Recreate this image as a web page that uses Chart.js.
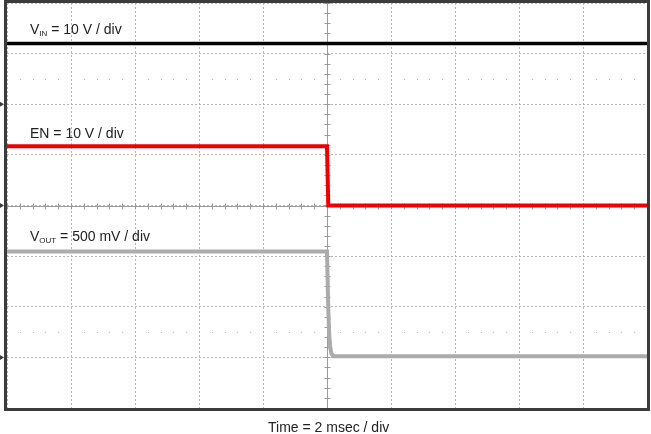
<!DOCTYPE html>
<html>
<head>
<meta charset="utf-8">
<script src="https://cdn.jsdelivr.net/npm/chart.js@4"></script>
<style>
  body { margin: 0; background: #fff; }
  #wrap { position: relative; width: 651px; height: 434px; }
  .lbl { position: absolute; font-family: "Liberation Sans", Arial, sans-serif; font-size: 14px; color: #222; white-space: nowrap; }
  .lbl sub { font-size: 8px; vertical-align: -2px; }
</style>
</head>
<body>
<div id="wrap">
  <canvas id="myChart" width="651" height="434"></canvas>
  <div class="lbl" style="left:30px; top:21px;">V<sub>IN</sub> = 10 V / div</div>
  <div class="lbl" style="left:30px; top:125px;">EN = 10 V / div</div>
  <div class="lbl" style="left:30px; top:228px;">V<sub>OUT</sub> = 500 mV / div</div>
  <div class="lbl" style="left:268px; top:419px;">Time = 2 msec / div</div>
</div>
<script>
// time in divisions (2 msec / div), values in divisions from screen centre
const vinTime = [-5, 5];
const vinVals = [3.2, 3.2];

const enTime = [-5, 0, 0.02, 5];
const enVals = [1.17, 1.17, 0.0, 0.0];

const voutTime = [-5, 0, 0.02, 0.035, 0.05, 0.07, 0.1, 5];
const voutVals = [-0.91, -0.91, -2.05, -2.55, -2.8, -2.93, -2.98, -2.98];

const groundMarks = [2, 0, -3];
const dotRows = [2.5, -2.5];

function toPoints(xs, ys) {
  return xs.map((x, i) => ({ x: x, y: ys[i] }));
}

// scope decorations: centre cross with minor ticks, dotted rows, frame, ground arrows
const scopePlugin = {
  id: "scope",
  beforeDatasetsDraw(chart) {
    const { ctx, chartArea: a, scales: { x, y } } = chart;
    const cx = Math.round(x.getPixelForValue(0)) + 0.5;
    const cy = Math.round(y.getPixelForValue(0)) + 0.5;
    ctx.save();
    ctx.strokeStyle = "#9a9a9a";
    ctx.lineWidth = 1;
    ctx.beginPath();
    ctx.moveTo(cx, a.top); ctx.lineTo(cx, a.bottom);
    ctx.moveTo(a.left, cy); ctx.lineTo(a.right, cy);
    for (let t = -5; t <= 5.001; t += 0.2) {
      const px = Math.round(x.getPixelForValue(t)) + 0.5;
      ctx.moveTo(px, cy - 3); ctx.lineTo(px, cy + 3);
    }
    for (let v = -4; v <= 4.001; v += 0.2) {
      const py = Math.round(y.getPixelForValue(v)) + 0.5;
      ctx.moveTo(cx - 3, py); ctx.lineTo(cx + 3, py);
    }
    ctx.stroke();
    ctx.fillStyle = "#b8b8b8";
    dotRows.forEach(r => {
      const py = Math.round(y.getPixelForValue(r));
      for (let t = -5; t <= 5.001; t += 0.2) {
        const px = Math.round(x.getPixelForValue(t));
        ctx.fillRect(px, py, 1, 1);
      }
    });
    ctx.restore();
  },
  afterDatasetsDraw(chart) {
    const { ctx, chartArea: a, scales: { y } } = chart;
    ctx.save();
    ctx.strokeStyle = "#3c3c3c";
    ctx.lineWidth = 3;
    ctx.strokeRect(a.left - 1.5, a.top - 1.5, a.right - a.left + 3, a.bottom - a.top + 3);
    ctx.fillStyle = "#3c3c3c";
    groundMarks.forEach(g => {
      const py = y.getPixelForValue(g);
      ctx.beginPath();
      ctx.moveTo(0, py - 2.5); ctx.lineTo(4, py); ctx.lineTo(0, py + 2.5);
      ctx.closePath();
      ctx.fill();
    });
    ctx.restore();
  }
};

const ctx = document.getElementById("myChart").getContext("2d");
new Chart(ctx, {
  type: "line",
  data: {
    datasets: [
      { label: "VIN", data: toPoints(vinTime, vinVals), borderColor: "#000", borderWidth: 3.5 },
      { label: "EN", data: toPoints(enTime, enVals), borderColor: "#ee0000", borderWidth: 4 },
      { label: "VOUT", data: toPoints(voutTime, voutVals), borderColor: "#ababab", borderWidth: 4 }
    ]
  },
  options: {
    responsive: false,
    animation: false,
    parsing: false,
    elements: { point: { radius: 0 }, line: { tension: 0 } },
    layout: { padding: { left: 7, right: 4, top: 3, bottom: 26 } },
    plugins: { legend: { display: false }, tooltip: { enabled: false } },
    scales: {
      x: {
        type: "linear", min: -5, max: 5,
        ticks: { display: false, stepSize: 1 },
        grid: { color: "#b5b5b5", borderDash: [2, 2], drawTicks: false, lineWidth: 1 },
        border: { display: false, dash: [2, 2] }
      },
      y: {
        type: "linear", min: -4, max: 4,
        ticks: { display: false, stepSize: 1 },
        grid: { color: "#b5b5b5", drawTicks: false, lineWidth: 1 },
        border: { display: false, dash: [2, 2] }
      }
    }
  },
  plugins: [scopePlugin]
});
</script>
</body>
</html>
